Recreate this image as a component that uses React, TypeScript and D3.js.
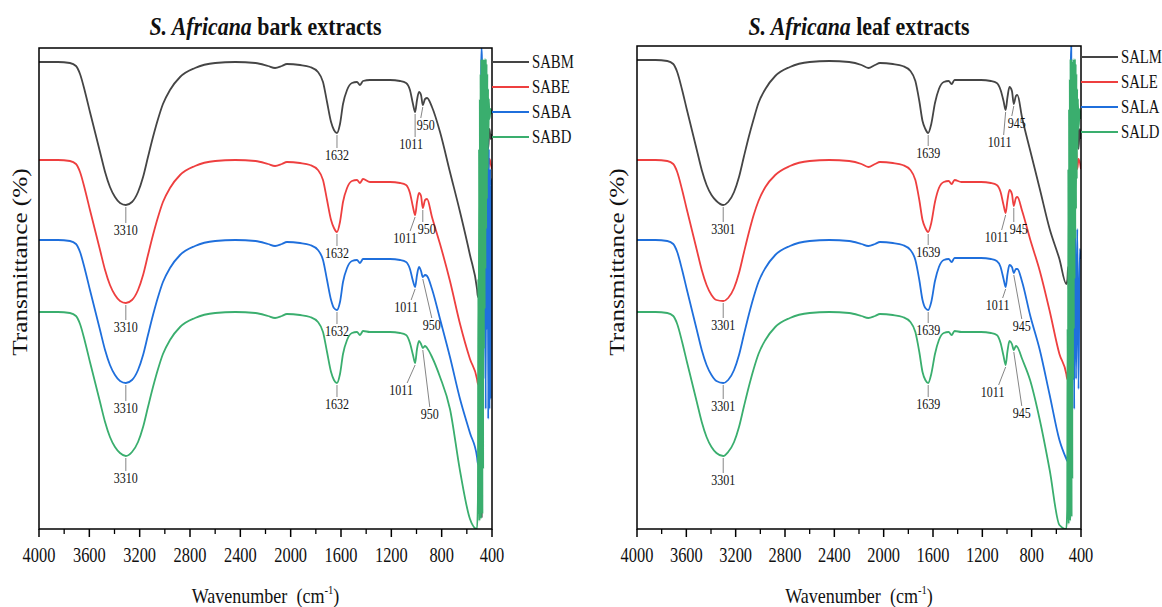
import React from 'react';
import * as d3 from 'd3';

const W = 1162;
const H = 607;
const FONT = '"Liberation Serif", "Times New Roman", serif';
const SX = 0.82;

const SERIES_COLORS = ['#454545', '#ee3f3f', '#1f6fdc', '#3aae6e'];

// ---------- Bark panel data (wavenumber cm-1, transmittance a.u.) ----------
const barkWn = [4000, 3850, 3754, 3706, 3674, 3634, 3595, 3555, 3515, 3475, 3436, 3396, 3356, 3310, 3261, 3213, 3173, 3134, 3094, 3054, 3015, 2959, 2879, 2760, 2600, 2440, 2280, 2180, 2124, 2070, 2030, 1926, 1846, 1783, 1743, 1711, 1679, 1656, 1632, 1608, 1584, 1552, 1513, 1473, 1449, 1425, 1370, 1210, 1131, 1083, 1052, 1028, 1011, 996, 980, 964, 950, 932, 916, 877, 813, 734, 654, 575, 519];
const barkNames = ['SABM', 'SABE', 'SABA', 'SABD'];
const SABM = [467, 467, 466, 463, 455, 437, 417, 397, 377, 357, 342, 332, 326, 324, 327, 337, 352, 372, 392, 410, 425, 439, 452, 461, 466, 467, 466, 463, 461, 463, 465, 464, 462, 457, 447, 427, 407, 399, 396, 405, 425, 439, 446, 447, 444, 448, 449, 449, 448, 446, 439, 425, 417, 429, 437, 434, 424, 430, 431, 422, 397, 357, 317, 274, 240];
const SABE = [369, 369, 368, 365, 357, 339, 319, 299, 279, 259, 244, 234, 228, 226, 229, 239, 254, 274, 294, 312, 327, 341, 354, 363, 368, 369, 368, 365, 363, 365, 367, 366, 364, 359, 349, 329, 309, 301, 297, 307, 327, 341, 348, 349, 346, 350, 347, 347, 346, 344, 336, 322, 314, 327, 336, 333, 321, 329, 330, 312, 285, 248, 205, 170, 150];
const SABA = [289, 289, 288, 285, 277, 259, 239, 219, 199, 179, 164, 154, 148, 146, 149, 159, 174, 194, 214, 232, 247, 261, 274, 283, 288, 289, 288, 285, 283, 285, 287, 286, 284, 279, 269, 249, 229, 221, 219, 227, 247, 261, 268, 269, 266, 270, 270, 270, 269, 267, 260, 248, 242, 254, 262, 258, 252, 254, 253, 240, 210, 172, 130, 96, 72];
const SABD = [217, 217, 216, 213, 205, 187, 167, 147, 127, 107, 92, 82, 76, 73, 77, 87, 102, 122, 142, 160, 175, 189, 202, 211, 216, 217, 216, 213, 211, 213, 215, 214, 212, 207, 197, 177, 157, 149, 146, 155, 175, 189, 196, 197, 194, 198, 197, 197, 196, 194, 186, 174, 166, 180, 188, 185, 181, 183, 181, 172, 152, 120, 58, 10, 0];
// noisy low-wavenumber ends
const SABM_tail = [[512, 232], [506, 236], [500, 222], [496, 226], [492, 205], [488, 215], [485, 200], [482, 12], [480, 190], [476, 262], [472, 420], [468, 380], [464, 430], [460, 400], [450, 440], [440, 420], [430, 380], [420, 400], [410, 390], [400, 395]];
const SABE_tail = [[512, 145], [507, 150], [503, 138], [499, 142], [495, 120], [492, 30], [489, 140], [486, 300], [482, 420], [478, 460], [474, 200], [470, 380], [465, 300], [460, 400], [450, 350], [440, 380], [430, 360], [420, 370], [410, 365], [400, 360]];
const SABA_tail = [[512, 65], [506, 75], [500, 55], [495, 62], [490, 45], [486, 460], [483, 481], [480, 470], [476, 100], [472, 350], [468, 150], [464, 300], [460, 200], [455, 380], [450, 120], [445, 400], [440, 200], [435, 420], [430, 110], [425, 380], [420, 120], [415, 360], [410, 130], [405, 350], [400, 340]];
const SABD_tail = [[512, 30], [509, 250], [506, 15], [503, 380], [500, 8], [497, 430], [494, 25], [491, 455], [488, 10], [485, 470], [482, 30], [479, 465], [476, 15], [473, 470], [470, 60], [467, 455], [464, 180], [461, 470], [458, 220], [455, 460], [452, 260], [449, 470], [446, 300], [443, 465], [440, 330], [437, 455], [434, 360], [431, 440], [428, 390], [425, 430], [420, 410], [410, 420], [400, 415]];
const barkPeakWn = [3310, 1632, 1011, 950];
const barkPeakText = ['3310', '1632', '1011', '950'];

// ---------- Leaf panel data ----------
const leafWn = [4000, 3850, 3754, 3706, 3674, 3634, 3595, 3555, 3515, 3475, 3436, 3396, 3356, 3301, 3261, 3213, 3173, 3134, 3094, 3054, 3015, 2959, 2879, 2760, 2600, 2440, 2280, 2180, 2124, 2070, 2030, 1926, 1846, 1783, 1743, 1711, 1685, 1662, 1639, 1614, 1584, 1552, 1513, 1473, 1449, 1425, 1370, 1210, 1131, 1083, 1052, 1028, 1011, 996, 980, 960, 945, 928, 916, 877, 813, 734, 654, 575, 519];
const leafNames = ['SALM', 'SALE', 'SALA', 'SALD'];
const SALM = [469, 469, 468, 465, 457, 439, 419, 399, 379, 359, 344, 334, 328, 324, 327, 337, 352, 372, 392, 410, 426, 440, 453, 462, 467, 468, 467, 464, 461, 464, 466, 465, 463, 458, 448, 428, 408, 400, 396, 405, 426, 440, 447, 448, 445, 449, 449, 449, 448, 446, 439, 428, 419, 432, 442, 438, 425, 433, 434, 411, 379, 340, 300, 270, 245];
const SALE = [369, 369, 368, 365, 357, 339, 319, 299, 279, 259, 244, 234, 229, 228, 231, 241, 256, 276, 296, 314, 328, 342, 354, 363, 368, 369, 368, 365, 362, 365, 367, 366, 364, 359, 349, 329, 309, 301, 297, 306, 327, 341, 347, 348, 345, 349, 347, 347, 346, 344, 337, 324, 316, 329, 339, 335, 323, 331, 332, 318, 290, 258, 218, 175, 155];
const SALA = [289, 289, 288, 285, 277, 259, 239, 219, 199, 179, 164, 154, 148, 146, 149, 159, 174, 194, 214, 232, 247, 261, 274, 283, 288, 289, 288, 285, 283, 285, 287, 286, 284, 279, 269, 249, 229, 221, 219, 227, 248, 262, 269, 270, 267, 271, 271, 271, 270, 268, 262, 250, 242, 255, 264, 262, 256, 260, 260, 247, 214, 179, 134, 89, 70];
const SALD = [217, 217, 216, 213, 205, 187, 167, 147, 127, 107, 92, 82, 76, 73, 77, 87, 102, 122, 142, 160, 175, 189, 202, 211, 216, 217, 216, 213, 211, 213, 215, 214, 212, 207, 197, 177, 157, 149, 146, 155, 175, 189, 196, 197, 194, 198, 197, 197, 196, 194, 186, 173, 164, 178, 188, 185, 179, 183, 182, 170, 149, 109, 59, 4, 0];
const SALM_tail = [[510, 250], [505, 262], [500, 240], [496, 255], [492, 230], [490, 10], [487, 235], [484, 200], [480, 300], [470, 420], [460, 380], [450, 440], [440, 400], [430, 420], [420, 380], [410, 400], [400, 390]];
const SALE_tail = [[512, 150], [506, 158], [500, 140], [495, 150], [490, 130], [486, 60], [482, 200], [478, 400], [474, 450], [470, 300], [460, 390], [450, 350], [440, 380], [430, 360], [420, 370], [400, 360]];
const SALA_tail = [[512, 68], [506, 75], [500, 60], [495, 65], [490, 50], [486, 80], [482, 470], [479, 483], [476, 300], [472, 120], [468, 380], [464, 150], [460, 300], [455, 120], [450, 350], [440, 150], [430, 300], [420, 140], [410, 280], [400, 270]];
const SALD_tail = [[512, 20], [509, 200], [506, 10], [503, 360], [500, 5], [497, 420], [494, 20], [491, 450], [488, 8], [485, 470], [482, 25], [479, 470], [476, 12], [473, 468], [470, 50], [467, 460], [464, 150], [461, 470], [458, 200], [455, 465], [452, 250], [449, 470], [446, 290], [443, 465], [440, 320], [437, 455], [434, 350], [431, 440], [428, 380], [425, 430], [420, 400], [410, 420], [400, 410]];
const leafPeakWn = [3301, 1639, 1011, 945];
const leafPeakText = ['3301', '1639', '1011', '945'];

const xTicks = [4000, 3600, 3200, 2800, 2400, 2000, 1600, 1200, 800, 400];
const xMinorTicks = [3800, 3400, 3000, 2600, 2200, 1800, 1400, 1000, 600];

// label layout: [dx, dy, leader-end x offset] per series, per peak
const barkLabelLayout = [
  [[0, 25, 0], [0, 22, 0], [-4, 32, 4], [3, 20, -5]],
  [[0, 24, 0], [0, 21, 0], [-10, 23, 5], [4, 21, -4]],
  [[0, 25, 0], [0, 21, 0], [-9, 20, 5], [9, 48, 0]],
  [[0, 22, 0], [0, 21, 0], [-14, 27, 6], [7, 66, 0]],
];
const leafLabelLayout = [
  [[0, 24, 0], [0, 20, 0], [-6, 32, 4], [3, 19, -5]],
  [[0, 24, 0], [0, 20, 0], [-9, 24, 5], [5, 23, -5]],
  [[0, 23, 0], [0, 20, 0], [-8, 18, 5], [8, 53, 0]],
  [[0, 24, 0], [0, 21, 0], [-13, 27, 6], [8, 63, 0]],
];

type Pt = [number, number];

function buildSeries(wn: number[], vals: number[], tail: number[][]): Pt[] {
  const n = Math.min(wn.length, vals.length);
  const pts: Pt[] = [];
  for (let i = 0; i < n; i++) pts.push([wn[i], vals[i]]);
  tail.forEach((p) => pts.push([p[0], p[1]]));
  return pts;
}

function CT(props: any) {
  const { x, y, size, anchor = 'middle', weight = 'normal', sx = SX, children, fill = '#111' } = props;
  return (
    <text
      transform={`translate(${x},${y}) scale(${sx},1)`}
      fontSize={size}
      fontFamily={FONT}
      fontWeight={weight}
      textAnchor={anchor}
      fill={fill}
    >
      {children}
    </text>
  );
}

function Panel(props: any) {
  const { id, x0, x1, top, bottom, yMax, titleLead, titleRest, names, series, peakWn, peakText, layout, yLabelX, legendY0 } = props;
  const x = d3.scaleLinear().domain([4000, 400]).range([x0, x1]);
  const y = d3.scaleLinear().domain([0, yMax]).range([bottom, top]);
  const line = d3
    .line<Pt>()
    .x((d) => x(d[0]))
    .y((d) => y(d[1]))
    .curve(d3.curveMonotoneX);
  const cx = (x0 + x1) / 2;

  return (
    <g>
      <defs>
        <clipPath id={`clip-${id}`}>
          <rect x={x0} y={top} width={x1 - x0} height={bottom - top} />
        </clipPath>
      </defs>
      {/* title */}
      <CT x={cx} y={35} size={26} weight="bold" sx={0.84}>
        <tspan fontStyle="italic">{titleLead}</tspan>
        <tspan>{titleRest}</tspan>
      </CT>
      {/* curves */}
      <g clipPath={`url(#clip-${id})`}>
        {series.map((pts: Pt[], i: number) => (
          <path key={i} d={line(pts) || ''} fill="none" stroke={SERIES_COLORS[i]} strokeWidth={1.8} strokeLinejoin="round" />
        ))}
      </g>
      {/* peak annotations */}
      {series.map((pts: Pt[], si: number) =>
        peakWn.map((w: number, pi: number) => {
          const p = pts.find((d) => d[0] === w) as Pt;
          const px = x(p[0]);
          const py = y(p[1]);
          const [dx, dy, ex] = layout[si][pi];
          const lx = px + dx;
          const ly = py + dy;
          return (
            <g key={`${si}-${pi}`}>
              <line x1={px} y1={py + 2} x2={lx + ex} y2={ly - 7} stroke="#666" strokeWidth={0.8} />
              <CT x={lx} y={ly + 5} size={15} sx={0.8}>
                {peakText[pi]}
              </CT>
            </g>
          );
        })
      )}
      {/* frame */}
      <rect x={x0} y={top} width={x1 - x0} height={bottom - top} fill="none" stroke="#000" strokeWidth={1.5} />
      {/* x ticks */}
      {xTicks.map((t) => (
        <g key={t}>
          <line x1={x(t)} x2={x(t)} y1={bottom} y2={bottom + 8} stroke="#000" strokeWidth={1.5} />
          <CT x={x(t)} y={bottom + 33} size={20}>
            {t}
          </CT>
        </g>
      ))}
      {xMinorTicks.map((t) => (
        <line key={t} x1={x(t)} x2={x(t)} y1={bottom} y2={bottom + 5} stroke="#000" strokeWidth={1.3} />
      ))}
      {/* x title */}
      <CT x={cx} y={bottom + 74} size={22}>
        Wavenumber{'\u00a0\u00a0'}(cm
        <tspan fontSize={13} dy={-9}>-1</tspan>
        <tspan dy={9}>)</tspan>
      </CT>
      {/* y title */}
      <text
        transform={`translate(${yLabelX},${262}) rotate(-90) scale(1.2,1)`}
        fontSize={21}
        fontFamily={FONT}
        textAnchor="middle"
        fill="#111"
      >
        Transmittance (%)
      </text>
      {/* legend */}
      {names.map((nm: string, i: number) => {
        const ly = legendY0 + i * 25;
        return (
          <g key={nm}>
            <line x1={x1} x2={x1 + 37} y1={ly} y2={ly} stroke={SERIES_COLORS[i]} strokeWidth={2.2} />
            <CT x={x1 + 40} y={ly + 6} size={18} anchor="start">
              {nm}
            </CT>
          </g>
        );
      })}
    </g>
  );
}

export default function App() {
  const barkSeries = [
    buildSeries(barkWn, SABM, SABM_tail),
    buildSeries(barkWn, SABE, SABE_tail),
    buildSeries(barkWn, SABA, SABA_tail),
    buildSeries(barkWn, SABD, SABD_tail),
  ];
  const leafSeries = [
    buildSeries(leafWn, SALM, SALM_tail),
    buildSeries(leafWn, SALE, SALE_tail),
    buildSeries(leafWn, SALA, SALA_tail),
    buildSeries(leafWn, SALD, SALD_tail),
  ];
  return (
    <svg
      width={W}
      height={H}
      viewBox={`0 0 ${W} ${H}`}
      style={{ position: 'absolute', left: 0, top: 0, background: '#fff' }}
    >
      <rect x={0} y={0} width={W} height={H} fill="#fff" />
      <Panel
        id="bark"
        x0={39}
        x1={492}
        top={48}
        bottom={529}
        yMax={481}
        titleLead="S. Africana"
        titleRest=" bark extracts"
        names={barkNames}
        series={barkSeries}
        peakWn={barkPeakWn}
        peakText={barkPeakText}
        layout={barkLabelLayout}
        yLabelX={27}
        legendY0={62}
      />
      <Panel
        id="leaf"
        x0={637}
        x1={1081}
        top={46}
        bottom={529}
        yMax={483}
        titleLead="S. Africana"
        titleRest=" leaf extracts"
        names={leafNames}
        series={leafSeries}
        peakWn={leafPeakWn}
        peakText={leafPeakText}
        layout={leafLabelLayout}
        yLabelX={624}
        legendY0={57}
      />
    </svg>
  );
}
